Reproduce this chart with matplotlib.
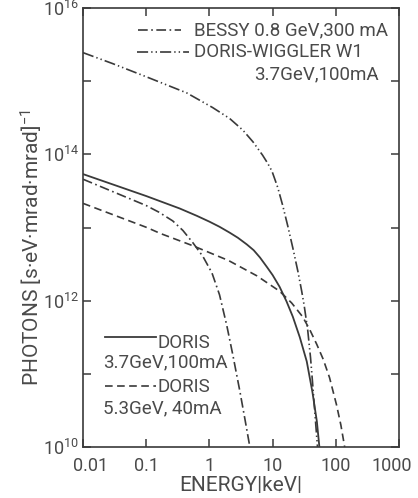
import numpy as np
import matplotlib
matplotlib.use("Agg")
import matplotlib.pyplot as plt
from matplotlib.transforms import ScaledTranslation

# values (log10 of energy in keV, log10 of photons)
bessy_logE = [-2.0, -1.5, -1.0, -0.8, -0.58, -0.42, -0.26, -0.10, 0.04, 0.16, 0.275, 0.37, 0.48, 0.56, 0.64]
bessy_logN = [13.66, 13.48, 13.30, 13.21, 13.09, 12.96, 12.79, 12.60, 12.38, 12.08, 11.66, 11.26, 10.77, 10.39, 10.0]

wiggler_logE = [-2.0, -1.53, -0.94, -0.36, 0.05, 0.32, 0.53, 0.69, 0.84, 0.92, 0.99, 1.08, 1.16, 1.24,
                1.32, 1.40, 1.46, 1.50, 1.555, 1.60, 1.63, 1.67, 1.71]
wiggler_logN = [15.39, 15.24, 15.04, 14.84, 14.64, 14.49, 14.33, 14.17, 13.99, 13.88, 13.77, 13.55, 13.30, 13.02,
                12.72, 12.40, 12.13, 11.93, 11.60, 11.22, 10.90, 10.45, 10.0]

doris37_logE = [-2.0, -1.0, -0.47, -0.2, 0.0, 0.16, 0.32, 0.45, 0.59, 0.70, 0.80, 0.91, 1.0, 1.11, 1.22,
                1.32, 1.43, 1.54, 1.63, 1.70, 1.74]
doris37_logN = [13.73, 13.43, 13.26, 13.16, 13.08, 13.01, 12.93, 12.86, 12.77, 12.69, 12.59, 12.46, 12.35, 12.19, 11.99,
                11.78, 11.50, 11.17, 10.75, 10.35, 10.0]

doris53_logE = [-2.0, -0.99, -0.78, -0.26, 0.30, 0.75, 1.11, 1.30, 1.475, 1.59, 1.70, 1.80, 1.90, 2.01, 2.08, 2.14]
doris53_logN = [13.33, 13.0, 12.92, 12.75, 12.55, 12.34, 12.13, 11.97, 11.78, 11.60, 11.40, 11.20, 10.95, 10.58, 10.30, 10.0]

x_ticks = [0.01, 0.1, 1, 10, 100, 1000]
x_labels = ["0.01", "0.1", "1", "10", "100", "1000"]
y_ticks = [1e10, 1e11, 1e12, 1e13, 1e14, 1e15, 1e16]
y_labels = ["$10^{10}$", "", "$10^{12}$", "", "$10^{14}$", "", "$10^{16}$"]

ink = "#3a3a3a"
txt = "#4a4a4a"
plt.rcParams["lines.scale_dashes"] = False
plt.rcParams["font.family"] = ["Roboto", "DejaVu Sans"]
plt.rcParams["mathtext.fontset"] = "custom"
plt.rcParams["mathtext.rm"] = "Roboto"
plt.rcParams["mathtext.it"] = "Roboto"

dash_dot = (0, (7, 2.5, 1.2, 2.5))
dash_dot_dot = (0, (8, 2.2, 1.0, 2.2, 1.0, 2.2))
dashed = (0, (5.5, 3.2))

fig = plt.figure(figsize=(4.18, 4.98), dpi=100)
ax = fig.add_axes([0.1986, 0.1024, 0.756, 0.8815])

ax.plot(10 ** np.array(bessy_logE), 10 ** np.array(bessy_logN), color=ink, lw=1.2, linestyle=dash_dot)
ax.plot(10 ** np.array(wiggler_logE), 10 ** np.array(wiggler_logN), color=ink, lw=1.2, linestyle=dash_dot_dot)
ax.plot(10 ** np.array(doris37_logE), 10 ** np.array(doris37_logN), color=ink, lw=1.3, linestyle="-")
ax.plot(10 ** np.array(doris53_logE), 10 ** np.array(doris53_logN), color=ink, lw=1.2, linestyle=dashed)

ax.set_xscale("log")
ax.set_yscale("log")
ax.set_xlim(0.01, 1000)
ax.set_ylim(1e10, 1e16)
ax.set_xticks(x_ticks)
ax.set_xticklabels(x_labels)
ax.set_yticks(y_ticks)
ax.set_yticklabels(y_labels)
ax.minorticks_off()
ax.tick_params(direction="in", length=6, width=1.1, color=ink, top=True, right=True,
               labelsize=13, labelcolor=txt)
ax.tick_params(axis="x", pad=7)
ax.tick_params(axis="y", pad=3)
for s in ax.spines.values():
    s.set_linewidth(1.2)
    s.set_color(ink)

# end labels sit a little inside in the original
xl = ax.get_xticklabels()
xl[0].set_transform(xl[0].get_transform() + ScaledTranslation(8 / 100, 0, fig.dpi_scale_trans))
xl[-1].set_transform(xl[-1].get_transform() + ScaledTranslation(-7 / 100, 0, fig.dpi_scale_trans))

ax.set_xlabel("ENERGY|keV|", fontsize=15, color=txt, labelpad=1)
ax.set_ylabel("PHOTONS [s·eV·mrad·mrad]$^{-1}$", fontsize=15, color=txt)
ax.yaxis.set_label_coords(-0.12, 0.455)

# legend, top right
tr = ax.transAxes
ax.plot([0.175, 0.31], [0.95, 0.95], transform=tr, color=ink, lw=1.2, linestyle=dash_dot)
ax.text(0.35, 0.95, "BESSY 0.8 GeV,300 mA", transform=tr, fontsize=13.5, color=txt, va="center")
ax.plot([0.17, 0.335], [0.9, 0.9], transform=tr, color=ink, lw=1.2, linestyle=dash_dot_dot)
ax.text(0.35, 0.9, "DORIS-WIGGLER W1", transform=tr, fontsize=13.5, color=txt, va="center")
ax.text(0.935, 0.85, "3.7GeV,100mA", transform=tr, fontsize=13.5, color=txt, va="center", ha="right")

# legend, bottom left
ax.plot([0.07, 0.23], [0.25, 0.25], transform=tr, color=ink, lw=1.3, linestyle="-")
ax.text(0.235, 0.237, "DORIS", transform=tr, fontsize=13.5, color=txt, va="center")
ax.text(0.063, 0.193, "3.7GeV,100mA", transform=tr, fontsize=13.5, color=txt, va="center")
ax.plot([0.07, 0.23], [0.14, 0.14], transform=tr, color=ink, lw=1.2, linestyle=dashed)
ax.text(0.235, 0.136, "DORIS", transform=tr, fontsize=13.5, color=txt, va="center")
ax.text(0.063, 0.088, "5.3GeV, 40mA", transform=tr, fontsize=13.5, color=txt, va="center")

fig.savefig("out.png", dpi=100)
